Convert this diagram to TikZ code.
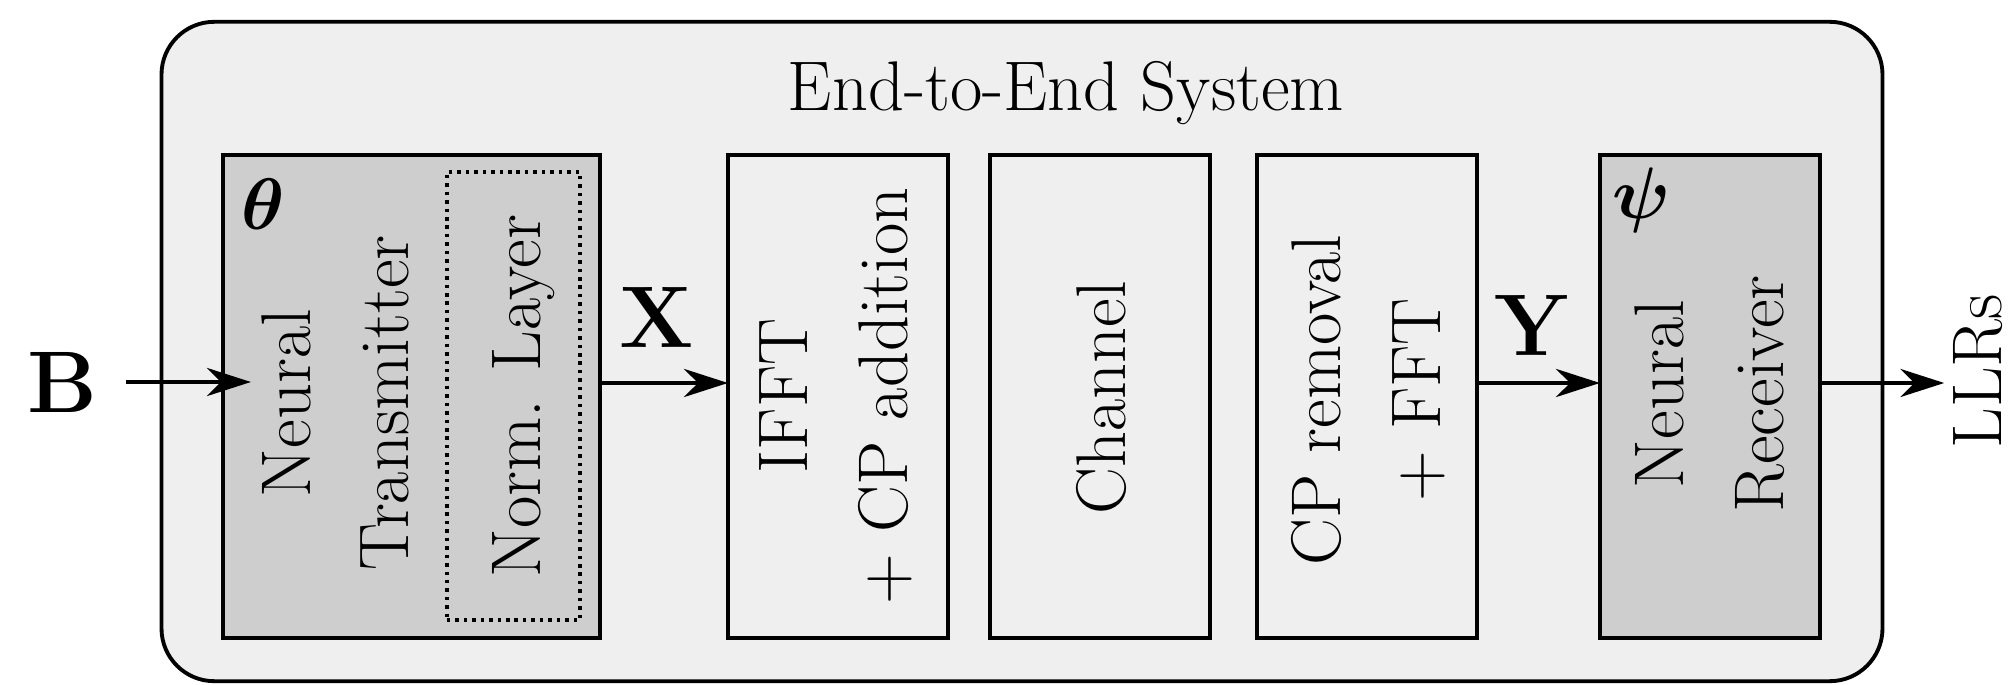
\documentclass[tikz,border=0pt]{standalone}
\usepackage{amsmath,bm}
\usetikzlibrary{arrows.meta}

\definecolor{sysfill}{HTML}{EFEFEF}
\definecolor{nnfill}{HTML}{CECECE}

\tikzset{
  blockbox/.style={draw, line width=1.1pt, fill=sysfill, inner sep=0pt, outer sep=0pt,
                   minimum width=2.2cm, minimum height=4.83cm},
  nnbox/.style={blockbox, fill=nnfill},
  normbox/.style={draw, line width=1.1pt, dash pattern=on 1pt off 1.4pt, inner sep=0pt,
                  minimum width=1.33cm, minimum height=4.48cm},
  vlabel/.style={rotate=90, anchor=base, inner sep=0pt, font=\fontsize{20}{28}\selectfont},
  param/.style={inner sep=0pt, font=\fontsize{20}{24}\selectfont},
  sym/.style={inner sep=0pt, font=\fontsize{24}{28}\selectfont},
  flow/.style={line width=1.1pt, -{Stealth[length=12.5pt, width=8pt, inset=4pt]}},
}

\begin{document}
\begin{tikzpicture}[x=0.01cm, y=-0.01cm]
\useasboundingbox (0,0) rectangle (2012,685);

% enclosing end-to-end system
\node[draw, line width=1.1pt, fill=sysfill, rounded corners=15pt, inner sep=0pt,
      minimum width=17.2cm, minimum height=6.59cm] (sys) at (1022,351.5) {};
\node[inner sep=0pt, anchor=base, font=\fontsize{20}{24}\selectfont] (title)
      at (1066,111) {End-to-End System};

% processing blocks
\node[nnbox, minimum width=3.77cm] (tx) at (411.5,396.5) {};
\node[normbox] (norm) at (513.5,396) {};
\node[blockbox] (ifft) at (838,396.5) {};
\node[blockbox] (chan) at (1100,396.5) {};
\node[blockbox] (fft) at (1367,396.5) {};
\node[nnbox] (rx) at (1710,396.5) {};

% block texts
\node[vlabel] (txa) at (310,403) {Neural};
\node[vlabel] (txb) at (408,403) {Transmitter};
\node[vlabel] (normt) at (540,396) {Norm. Layer};
\node[vlabel] (ifa) at (807,396) {IFFT};
\node[vlabel] (ifb) at (907,396) {+ CP addition};
\node[vlabel] (cht) at (1125,398) {Channel};
\node[vlabel] (cpa) at (1340,400) {CP removal};
\node[vlabel] (cpb) at (1440,400) {+ FFT};
\node[vlabel] (rxa) at (1683,394) {Neural};
\node[vlabel] (rxb) at (1783,394) {Receiver};

% trainable parameters
\node[param] (theta) at (263,204) {$\bm{\theta}$};
\node[param] (psi) at (1641,200) {$\bm{\psi}$};

% signals
\node[sym] (bin) at (62,382) {$\mathbf{B}$};
\node[sym] (xsig) at (657,317) {$\mathbf{X}$};
\node[sym] (ysig) at (1533,325) {$\mathbf{Y}$};
\node[vlabel] (llr) at (2001,371) {LLRs};

% connections
\draw[flow] ([xshift=0.28cm]bin.east) -- ([xshift=0.28cm]bin.east -| tx.west);
\draw[flow] ([yshift=0.135cm]tx.east) -- ([yshift=0.135cm]ifft.west);
\draw[flow] ([yshift=0.135cm]fft.east) -- ([yshift=0.135cm]rx.west);
\draw[flow, shorten >=0.08cm] ([yshift=0.135cm]rx.east) -- ([yshift=0.135cm]rx.east -| llr.north);
\end{tikzpicture}
\end{document}
